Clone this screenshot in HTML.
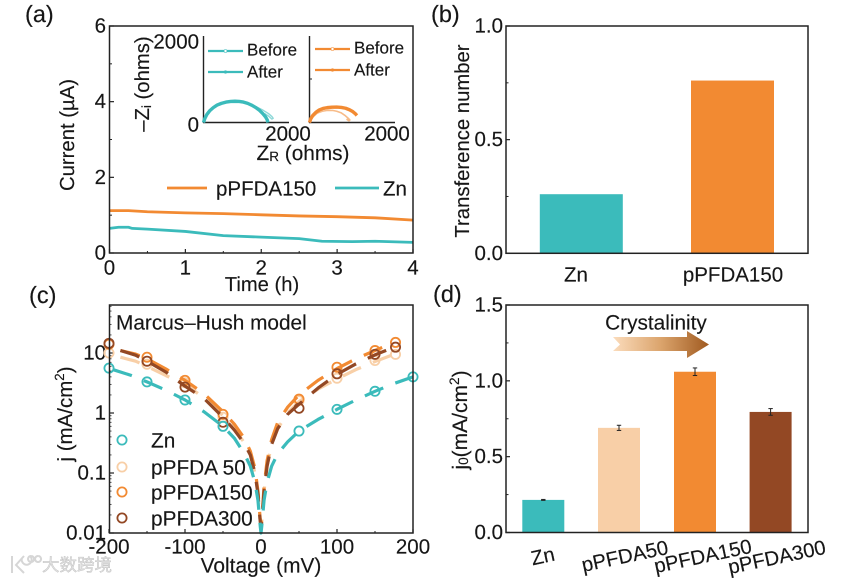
<!DOCTYPE html>
<html lang="en">
<head>
<meta charset="utf-8">
<title>Electrochemical chart panels</title>
<style>
html,body{margin:0;padding:0;background:#fff;width:865px;height:581px;overflow:hidden}
svg{display:block;filter:blur(0.35px)}
text{font-family:"Liberation Sans","Noto Sans CJK SC",sans-serif;fill:#161616;stroke:#161616;stroke-width:.15px;text-rendering:geometricPrecision}
</style>
</head>
<body>
<svg id="chart" xmlns="http://www.w3.org/2000/svg" width="865" height="581" viewBox="0 0 865 581">
<defs>
<linearGradient id="arrowGrad" x1="0" x2="1" y1="0" y2="0">
<stop offset="0" stop-color="#fbdcbc"/>
<stop offset="0.5" stop-color="#dba46c"/>
<stop offset="1" stop-color="#a05a20"/>
</linearGradient>
</defs>
<g id="root"></g>
<path d="M613 337H687V331L709 344.500L687 358V351H613L620 344.500Z" fill="url(#arrowGrad)"/>
</svg>
<script>
// Panel (a) data
const timeHours = [0, 0.25, 0.5, 1, 1.5, 2, 2.5, 3, 3.5, 4];
const currentOrange = [1.12, 1.12, 1.09, 1.06, 1.04, 1.01, 0.98, 0.96, 0.93, 0.87];
const timeHoursZn = [0, 0.12, 0.25, 0.3, 0.5, 1, 1.5, 2, 2.5, 2.8, 3.2, 3.5, 4];
const currentZn = [0.65, 0.68, 0.68, 0.65, 0.63, 0.57, 0.46, 0.42, 0.38, 0.31, 0.30, 0.31, 0.28];
const xTicksA = [0, 1, 2, 3, 4];
const yTicksA = [0, 2, 4, 6];

// Panel (a) inset data
const znAfterR = [0, 30, 80, 150, 230, 320, 420, 530, 640, 740, 840, 940, 1040, 1140, 1240, 1320, 1400, 1460, 1500, 1515];
const znAfterI = [0, 90, 190, 280, 350, 410, 450, 480, 495, 500, 495, 480, 450, 405, 345, 285, 205, 130, 60, 0];
const znBeforeR = [0, 80, 230, 420, 640, 840, 1040, 1240, 1400, 1530, 1610, 1640, 1610, 1530, 1440];
const znBeforeI = [0, 190, 350, 450, 490, 490, 450, 370, 290, 210, 140, 100, 80, 150, 210];
const pfAfterR = [0, 30, 80, 150, 230, 320, 420, 530, 640, 750, 850, 940, 1020, 1080, 1115];
const pfAfterI = [0, 90, 170, 240, 295, 330, 350, 360, 362, 355, 335, 300, 255, 205, 165];
const pfBeforeR = [0, 80, 180, 300, 420, 540, 640, 740, 830, 900, 950, 930, 870];
const pfBeforeI = [0, 130, 220, 265, 285, 285, 265, 230, 170, 110, 60, 40, 80];

// Panel (b) data
const bCategories = ["Zn", "pPFDA150"];
const bValues = [0.26, 0.76];
const yTicksB = ["0.0", "0.5", "1.0"];

// Panel (c) data
const xTicksC = [-200, -100, 0, 100, 200];
const yTicksC = ["0.01", "0.1", "1", "10"];
const seriesNamesC = ["Zn", "pPFDA 50", "pPFDA150", "pPFDA300"];
const markerV = [-200, -150, -100, -50, 50, 100, 150, 177];
const markerVZn = [-200, -150, -100, -50, 50, 100, 150, 200];
const markerZn = [5.6, 3.3, 1.65, 0.6, 0.5, 1.15, 2.3, 4];
const marker50 = [10, 6.5, 3.2, 0.85, 1.6, 3.8, 7.5, 9.5];
const marker150 = [14, 8.5, 3.5, 0.95, 1.7, 5.8, 11, 15];
const marker300 = [14.5, 7.3, 2.7, 0.7, 1.2, 4.5, 9.5, 12.5];
const fitVZn = [-195, -170, -150, -125, -100, -75, -50, -35, -22, -14, -8, -4, -1, 0, 1, 4, 8, 14, 22, 35, 50, 75, 100, 125, 150, 175, 200];
const fitZn = [5.3, 4.2, 3.3, 2.4, 1.65, 1.05, 0.6, 0.38, 0.21, 0.13, 0.07, 0.035, 0.013, 0.01, 0.013, 0.035, 0.07, 0.13, 0.21, 0.33, 0.5, 0.78, 1.15, 1.65, 2.3, 3.1, 4];
const fitVOr = [-185, -165, -150, -125, -100, -75, -50, -35, -22, -14, -8, -4, -1.5, 0, 1.5, 4, 8, 14, 22, 35, 50, 75, 100, 125, 150, 175];
const fit50 = [8.5, 7.3, 6, 4.2, 3, 1.8, 0.9, 0.55, 0.32, 0.2, 0.1, 0.045, 0.018, 0.012, 0.018, 0.05, 0.13, 0.3, 0.55, 1, 1.55, 2.5, 3.7, 5.3, 7.2, 9.5];
const fit150 = [11, 9.6, 8, 5.4, 3.5, 2.1, 1.05, 0.65, 0.38, 0.23, 0.12, 0.05, 0.02, 0.013, 0.02, 0.06, 0.16, 0.36, 0.7, 1.25, 2, 3.5, 5.5, 8, 11, 15];
const fit300 = [11, 9.2, 7.3, 4.8, 2.8, 1.75, 0.85, 0.52, 0.31, 0.2, 0.1, 0.045, 0.018, 0.012, 0.018, 0.05, 0.13, 0.3, 0.55, 0.95, 1.4, 2.6, 4.4, 6.6, 9.3, 12.5];

// Panel (d) data
const dCategories = ["Zn", "pPFDA50", "pPFDA150", "pPFDA300"];
const dValues = [0.215, 0.69, 1.06, 0.795];
const dErrors = [0.003, 0.017, 0.025, 0.022];
const yTicksD = ["0.0", "0.5", "1.0", "1.5"];

const TEAL = "#3bbbbb", ORANGE = "#f28a32", PALE = "#f8cfa7", BROWN = "#934824", AXIS = "#222";
const NS = "http://www.w3.org/2000/svg";
const root = document.getElementById("root");

function make(tag, props, name) {
  const el = document.createElementNS(NS, tag);
  for (const k in props) el.setAttribute(k, props[k]);
  
  
  root.appendChild(el);
  return el;
}
function label(str, x, y, size, anchor, name, rotate) {
  const p = {x: x, y: y, "font-size": size, "text-anchor": anchor, "dominant-baseline": "central"};
  if (rotate) p.transform = "rotate(" + rotate + " " + x + " " + y + ")";
  const el = make("text", p, name);
  el.textContent = str;
  return el;
}
function rich(parts, x, y, size, name, rotate) {
  const p = {x: x, y: y, "font-size": size, "text-anchor": "middle", "dominant-baseline": "central"};
  if (rotate) p.transform = "rotate(" + rotate + " " + x + " " + y + ")";
  const el = make("text", p, name);
  parts.forEach(function (part) {
    const t = document.createElementNS(NS, "tspan");
    t.textContent = part[0];
    if (part[1]) {
      t.setAttribute("font-size", size * 0.65);
      t.setAttribute("baseline-shift", part[1] === "sub" ? "-25%" : "40%");
    }
    el.appendChild(t);
  });
  return el;
}
function line(x1, y1, x2, y2, stroke, width, name) {
  return make("line", {x1: x1, y1: y1, x2: x2, y2: y2, stroke: stroke, "stroke-width": width}, name);
}
function frame(x0, x1, y0, y1, name) {
  make("rect", {x: x0, y: y0, width: x1 - x0, height: y1 - y0, fill: "none", stroke: AXIS, "stroke-width": 1.5}, name);
}
function polyline(xs, ys, sx, sy, stroke, width, name, dash) {
  const pts = xs.map(function (v, i) { return sx(v).toFixed(2) + "," + sy(ys[i]).toFixed(2); }).join(" ");
  const p = {points: pts, fill: "none", stroke: stroke, "stroke-width": width, "stroke-linejoin": "round"};
  if (dash) p["stroke-dasharray"] = dash;
  return make("polyline", p, name);
}

/* Panel labels */
label("(a)", 25, 14, 23.5, "start", "panel-label-a");
label("(b)", 431, 14, 23.5, "start", "panel-label-b");
label("(c)", 29, 295, 23.5, "start", "panel-label-c");
label("(d)", 433, 294, 23.5, "start", "panel-label-d");

/* ---------- Panel A ---------- */
const ax = function (v) { return 109.5 + v / 4 * 303.5; };
const ay = function (v) { return 253 - v / 6 * 227; };
xTicksA.forEach(function (t) {
  line(ax(t), 253, ax(t), 249, AXIS, 1.2, "a-x-tick");
  label(String(t), ax(t), 268, 20.5, "middle", "a-x-tick-label");
  if (t < 4) line(ax(t + 0.5), 253, ax(t + 0.5), 251, AXIS, 1, "a-x-minor-tick");
});
yTicksA.forEach(function (t) {
  line(109.5, ay(t), 114, ay(t), AXIS, 1.2, "a-y-tick");
  label(String(t), 106, ay(t), 20.5, "end", "a-y-tick-label");
  if (t < 6) line(109.5, ay(t + 1), 112, ay(t + 1), AXIS, 1, "a-y-minor-tick");
});
polyline(timeHours, currentOrange, ax, ay, ORANGE, 2.8, "a-line-ppfda150");
polyline(timeHoursZn, currentZn, ax, ay, TEAL, 2.8, "a-line-zn");
frame(109.5, 413, 26, 253, "a-frame");
label("Time (h)", 262, 285, 20.2, "middle", "a-x-title");
label("Current (µA)", 68, 135, 20.3, "middle", "a-y-title", -90);
line(167, 188, 207, 188, ORANGE, 2.8, "a-legend-line-ppfda150");
label("pPFDA150", 216, 189, 20.5, "start", "a-legend-label-ppfda150");
line(335, 188, 379, 188, TEAL, 2.8, "a-legend-line-zn");
label("Zn", 383, 189, 20.5, "start", "a-legend-label-zn");

/* Inset */
const zScale = 85 / 2000;
const i1x = function (v) { return 203.5 + v * zScale; };
const i2x = function (v) { return 309.5 + v * zScale; };
const iy = function (v) { return 122.5 - v * 0.0425; };
line(203.5, 36, 203.5, 123, AXIS, 1.4, "inset1-y-axis");
line(203, 122.5, 289, 122.5, AXIS, 1.4, "inset1-x-axis");
line(309.5, 36, 309.5, 123, AXIS, 1.4, "inset2-y-axis");
line(309, 122.5, 395, 122.5, AXIS, 1.4, "inset2-x-axis");
line(309.5, 79, 312, 79, AXIS, 1, "inset2-y-tick");
polyline(znBeforeR, znBeforeI, i1x, iy, "#8fd8d8", 1.4, "inset1-before-curve");
polyline(znAfterR, znAfterI, i1x, iy, TEAL, 3.4, "inset1-after-curve");
polyline(pfBeforeR, pfBeforeI, i2x, iy, "#f7bb88", 1.6, "inset2-before-curve");
polyline(pfAfterR, pfAfterI, i2x, iy, ORANGE, 3.4, "inset2-after-curve");
label("2000", 199, 42, 20.5, "end", "inset-y-tick-2000");
label("0", 199, 125, 20.5, "end", "inset-y-tick-0");
label("2000", 288, 134, 20.5, "middle", "inset1-x-tick-2000");
label("2000", 387, 134, 20.5, "middle", "inset2-x-tick-2000");
rich([["Z"], ["R", "sub"], [" (ohms)"]], 303, 153, 20.8, "inset-x-title");
rich([["–Z"], ["i", "sub"], [" (ohms)"]], 143, 84, 20.3, "inset-y-title", -90);
line(208, 51, 243, 51, TEAL, 2.2, "inset1-legend-before-line");
make("circle", {cx: 225.5, cy: 51, r: 1.5, fill: "#fff", stroke: TEAL, "stroke-width": 0.6}, "inset1-legend-before-marker");
line(208, 72, 243, 72, TEAL, 2.2, "inset1-legend-after-line");
make("circle", {cx: 225.5, cy: 72, r: 1.6, fill: TEAL}, "inset1-legend-after-marker");
label("Before", 247, 50, 17, "start", "inset1-legend-before");
label("After", 247, 72, 17, "start", "inset1-legend-after");
line(315, 49, 350, 49, ORANGE, 2.2, "inset2-legend-before-line");
make("circle", {cx: 332.5, cy: 49, r: 1.5, fill: "#fff", stroke: ORANGE, "stroke-width": 0.6}, "inset2-legend-before-marker");
line(315, 70, 350, 70, ORANGE, 2.2, "inset2-legend-after-line");
make("circle", {cx: 332.5, cy: 70, r: 1.6, fill: ORANGE}, "inset2-legend-after-marker");
label("Before", 354, 48, 17, "start", "inset2-legend-before");
label("After", 354, 70, 17, "start", "inset2-legend-after");

/* ---------- Panel B ---------- */
const by = function (v) { return 253.3 - v * 227.3; };
const bCenters = [581.3, 732.5];
bValues.forEach(function (v, i) {
  make("rect", {x: bCenters[i] - 41.5, y: by(v), width: 83, height: by(0) - by(v), fill: i === 0 ? TEAL : ORANGE}, "b-bar-" + bCategories[i].toLowerCase());
  label(bCategories[i], i === 0 ? 576 : 733, 275, 20.5, "middle", "b-x-label");
});
yTicksB.forEach(function (t) {
  const v = parseFloat(t);
  line(506, by(v), 510, by(v), AXIS, 1.2, "b-y-tick");
  label(t, 503, by(v), 20.5, "end", "b-y-tick-label");
  if (v < 1) line(506, by(v + 0.25), 508.500, by(v + 0.25), AXIS, 1, "b-y-minor-tick");
});
frame(506, 808, 26, 253.3, "b-frame");
label("Transference number", 463, 141, 20.3, "middle", "b-y-title", -90);

/* ---------- Panel C ---------- */
const cx = function (v) { return 261 + v * 0.76; };
const cy = function (v) { return 533 - (Math.log10(v) + 2) * 60; };
xTicksC.forEach(function (t) {
  line(cx(t), 533, cx(t), 529, AXIS, 1.2, "c-x-tick");
  label(String(t), cx(t), 547, 20.5, "middle", "c-x-tick-label");
  if (t < 200) line(cx(t + 50), 533, cx(t + 50), 531, AXIS, 1, "c-x-minor-tick");
});
yTicksC.forEach(function (t) {
  const v = parseFloat(t);
  line(109.5, cy(v), 114, cy(v), AXIS, 1.2, "c-y-tick");
  label(t, 106, cy(v), 20.5, "end", "c-y-tick-label");
  for (let m = 2; m < 10; m++) {
    const mv = v * m;
    if (cy(mv) > 305) line(109.5, cy(mv), 111.5, cy(mv), AXIS, 0.8, "c-y-minor-tick");
  }
});
const cSeries = [
  {name: "ppfda50", color: PALE, fit: fit50, mk: marker50, v: markerV, fv: fitVOr},
  {name: "ppfda150", color: ORANGE, fit: fit150, mk: marker150, v: markerV, fv: fitVOr},
  {name: "ppfda300", color: BROWN, fit: fit300, mk: marker300, v: markerV, fv: fitVOr},
  {name: "zn", color: TEAL, fit: fitZn, mk: markerZn, v: markerVZn, fv: fitVZn}
];
cSeries.forEach(function (s) {
  polyline(s.fv, s.fit, cx, cy, s.color, 3.2, "c-fit-line-" + s.name, "20 13");
  s.mk.forEach(function (m, i) {
    make("circle", {cx: cx(s.v[i]), cy: cy(m), r: 4.6, fill: "none", stroke: s.color, "stroke-width": 1.8}, "c-point-" + s.name);
  });
});
frame(109.5, 413, 305, 533, "c-frame");
label("Marcus–Hush model", 116, 323, 20.8, "start", "c-annotation");
label("Voltage (mV)", 261, 566, 20.9, "middle", "c-x-title");
rich([["j (mA/cm"], ["2", "sup"], [")"]], 65, 414, 20.5, "c-y-title", -90);
const legendColors = [TEAL, PALE, ORANGE, BROWN];
const legendY = [440, 467, 492, 518];
seriesNamesC.forEach(function (n, i) {
  make("circle", {cx: 122, cy: legendY[i], r: 4.6, fill: "none", stroke: legendColors[i], "stroke-width": 1.8}, "c-legend-marker");
  label(n, 151, legendY[i] + 1, 20.8, "start", "c-legend-label");
});

/* ---------- Panel D ---------- */
const dy = function (v) { return 532.5 - v / 1.5 * 227.5; };
const dCenters = [543.3, 619, 695, 770.6];
const dColors = [TEAL, PALE, ORANGE, BROWN];
const dLabelPos = [[543, 557], [625, 557], [703, 557], [777, 558]];
dValues.forEach(function (v, i) {
  make("rect", {x: dCenters[i] - 21, y: dy(v), width: 42, height: dy(0) - dy(v), fill: dColors[i]}, "d-bar-" + dCategories[i].toLowerCase());
  const e = dErrors[i];
  line(dCenters[i], dy(v + e), dCenters[i], dy(v - e), "#222", 1, "d-error-bar");
  line(dCenters[i] - 2.2, dy(v + e), dCenters[i] + 2.2, dy(v + e), "#222", 1, "d-error-cap");
  line(dCenters[i] - 2.2, dy(v - e), dCenters[i] + 2.2, dy(v - e), "#222", 1, "d-error-cap");
  label(dCategories[i], dLabelPos[i][0], dLabelPos[i][1], 20.3, "middle", "d-x-label", -12);
});
yTicksD.forEach(function (t) {
  const v = parseFloat(t);
  line(506, dy(v), 510, dy(v), AXIS, 1.2, "d-y-tick");
  label(t, 503, dy(v), 20.5, "end", "d-y-tick-label");
  if (v < 1.5) line(506, dy(v + 0.25), 508.500, dy(v + 0.25), AXIS, 1, "d-y-minor-tick");
});
frame(506, 808, 305, 532.5, "d-frame");
label("Crystalinity", 656, 323, 20.8, "middle", "d-annotation");
rich([["j"], ["0", "sub"], ["(mA/cm"], ["2", "sup"], [")"]], 460, 420, 21, "d-y-title", -90);

/* Watermark */
const wm = label("大数跨境", 42, 565, 17.5, "start", "watermark-text");
wm.setAttribute("style", "fill:#e2e2e2;stroke:#bdbdbd;stroke-width:.4px");
make("path", {d: "M12 556V573M24 556L16 565L24 573M22 558a5 5 0 1 0 8 -2M31 556a3 3 0 1 0 .1 0M38 556a3 3 0 1 0 .1 0", fill: "none", stroke: "#d6d6d6", "stroke-width": 2}, "watermark-logo");
</script>
</body>
</html>
